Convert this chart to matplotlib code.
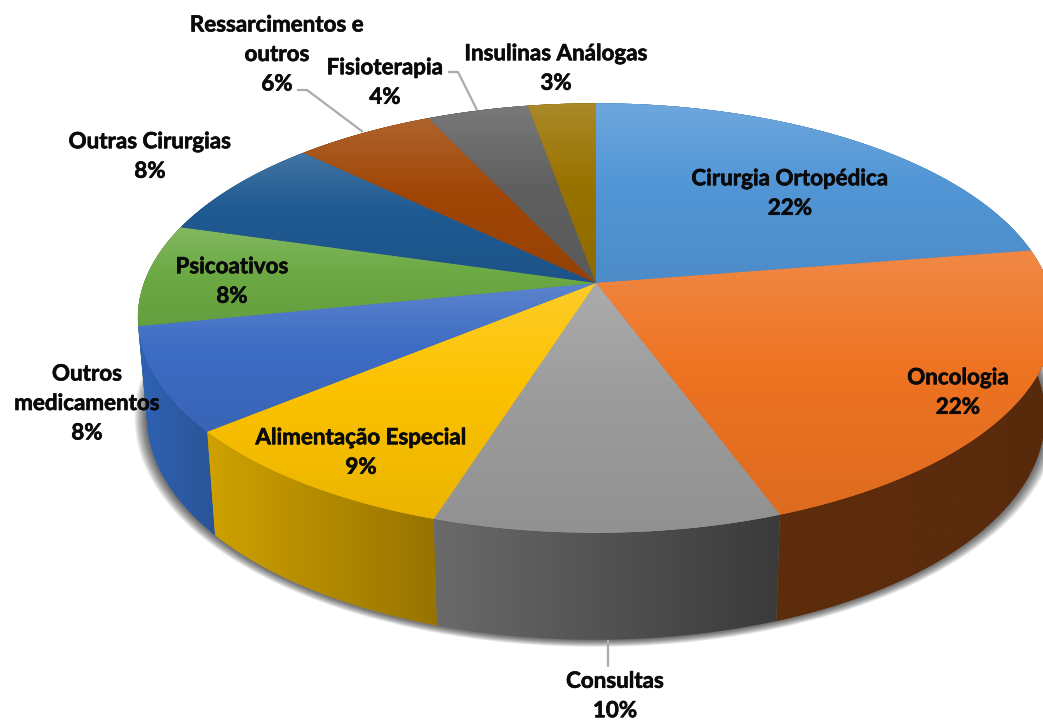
import numpy as np
import matplotlib
matplotlib.use("Agg")
import matplotlib.pyplot as plt
import matplotlib.patheffects as pe
from matplotlib.patches import Polygon

# --- data -------------------------------------------------------------
categories = ["Cirurgia Ortopédica", "Oncologia", "Consultas", "Alimentação Especial",
              "Outros\nmedicamentos", "Psicoativos", "Outras Cirurgias",
              "Ressarcimentos e\noutros", "Fisioterapia", "Insulinas Análogas"]
values = [22.45, 21.95, 10.5, 9.1, 7.8, 7.7, 7.7, 5.8, 4.2, 2.8]

# --- style ------------------------------------------------------------
face_colors = ["#5296D6", "#EE7322", "#9C9C9C", "#FCC200", "#3D6CC4",
               "#6CAA44", "#1F5A92", "#A04606", "#606060", "#997300"]
wall_left = ["#2E5E8C", "#5E2D0C", "#6A6A6A", "#CFA200", "#2F62B4",
             "#4A7530", "#153E63", "#6B3005", "#404040", "#664D00"]
wall_right = ["#2E5E8C", "#582A0C", "#3A3A3A", "#977300", "#2A5498",
              "#4A7530", "#153E63", "#6B3005", "#404040", "#664D00"]
label_xy = [(790, 193), (958, 392), (615, 695.5), (361, 452), (87, 403),
            (232, 281), (150, 156), (277, 54), (385, 82), (556, 68)]
leaders = [[(297, 90), (307, 90), (363, 132)],
           [(448, 72), (458, 72), (477, 110)],
           [(608, 640), (608, 667)]]
LINE_STEP = 29.5
BASE_OFFSET = 7.0

# --- projection of the disc ------------------------------------------
CX, CY, RX, RY, K = 596.0, 283.0, 452.0, 209.0, 0.163


def rim(theta, lower=False):
    X, Y = np.sin(theta), np.cos(theta)
    w = 1 + K * Y
    if lower:
        return np.column_stack([CX + 0.98 * RX * X / w, CY - RY * Y / w + 97 - 10 * Y])
    return np.column_stack([CX + RX * X / w, CY - RY * Y / w])


def rgb(c):
    return np.array(matplotlib.colors.to_rgb(c))


def paint(ax, poly, arr, z):
    x0, y0 = poly.min(axis=0)
    x1, y1 = poly.max(axis=0)
    im = ax.imshow(arr, extent=(x0, x1, y1, y0), origin="upper", aspect="auto",
                   interpolation="bilinear", zorder=z)
    patch = Polygon(poly, closed=True, transform=ax.transData, fc="none", ec="none")
    im.set_clip_path(patch)


def face_gradient(c):
    t = np.linspace(0, 1, 256)[:, None]
    base = rgb(c)[None, :]
    light = np.clip(1 - t / 0.45, 0, 1) * 0.16
    dark = 1 - np.clip((t - 0.45) / 0.55, 0, 1) * 0.07
    out = (base * dark) * (1 - light) + light
    return out[:, None, :]


fig = plt.figure(figsize=(10.43, 7.2), dpi=100)
ax = fig.add_axes([0, 0, 1, 1])
ax.axis("off")

edges = np.concatenate([[0], np.cumsum(values)]) / np.sum(values) * 2 * np.pi

# soft shadow below the lower rim
full = np.linspace(0, 2 * np.pi, 361)
lower_all = rim(full, lower=True)
centre = np.array([CX, CY + 97])
for s in np.linspace(1.028, 1.002, 13):
    ax.add_patch(Polygon(centre + (lower_all - centre) * s, closed=True,
                         fc="black", ec="none", alpha=0.06, zorder=1))

# walls, back to front
mids = (edges[:-1] + edges[1:]) / 2
for rank, i in enumerate(np.argsort(-np.cos(mids))):
    th = np.linspace(edges[i], edges[i + 1], 80)
    poly = np.vstack([rim(th), rim(th, True)[::-1]])
    grad = np.linspace(rgb(wall_left[i]), rgb(wall_right[i]), 128)[None, :, :]
    z = 2 + rank * 0.01
    ax.add_patch(Polygon(poly, closed=True, fc=wall_left[i], ec="none", zorder=z))
    paint(ax, poly, grad, z + 0.005)

# top faces
for i in range(len(values)):
    th = np.linspace(edges[i], edges[i + 1], 120)
    poly = np.vstack([[[CX, CY]], rim(th)])
    ax.add_patch(Polygon(poly, closed=True, fc=face_colors[i], ec="none", zorder=4))
    paint(ax, poly, face_gradient(face_colors[i]), 5)

# leader lines
for pts in leaders:
    p = np.array(pts)
    ax.plot(p[:, 0], p[:, 1], color="#ABABAB", lw=1.6, zorder=6, solid_capstyle="butt")

# labels, one text per line
stroke = [pe.withStroke(linewidth=0.45, foreground="#0A0A0A")]
for name, v, (x, y) in zip(categories, values, label_xy):
    lines = name.split("\n") + [f"{round(v)}%"]
    first = y - LINE_STEP * (len(lines) - 1) / 2
    for j, line in enumerate(lines):
        ax.text(x, first + j * LINE_STEP + BASE_OFFSET, line, ha="center", va="baseline",
                family="Lato", weight="bold", fontsize=16.1, color="#0A0A0A",
                path_effects=stroke, zorder=7)

ax.set_xlim(0, 1043)
ax.set_ylim(720, 0)
fig.savefig("out.png", dpi=100, facecolor="white")
